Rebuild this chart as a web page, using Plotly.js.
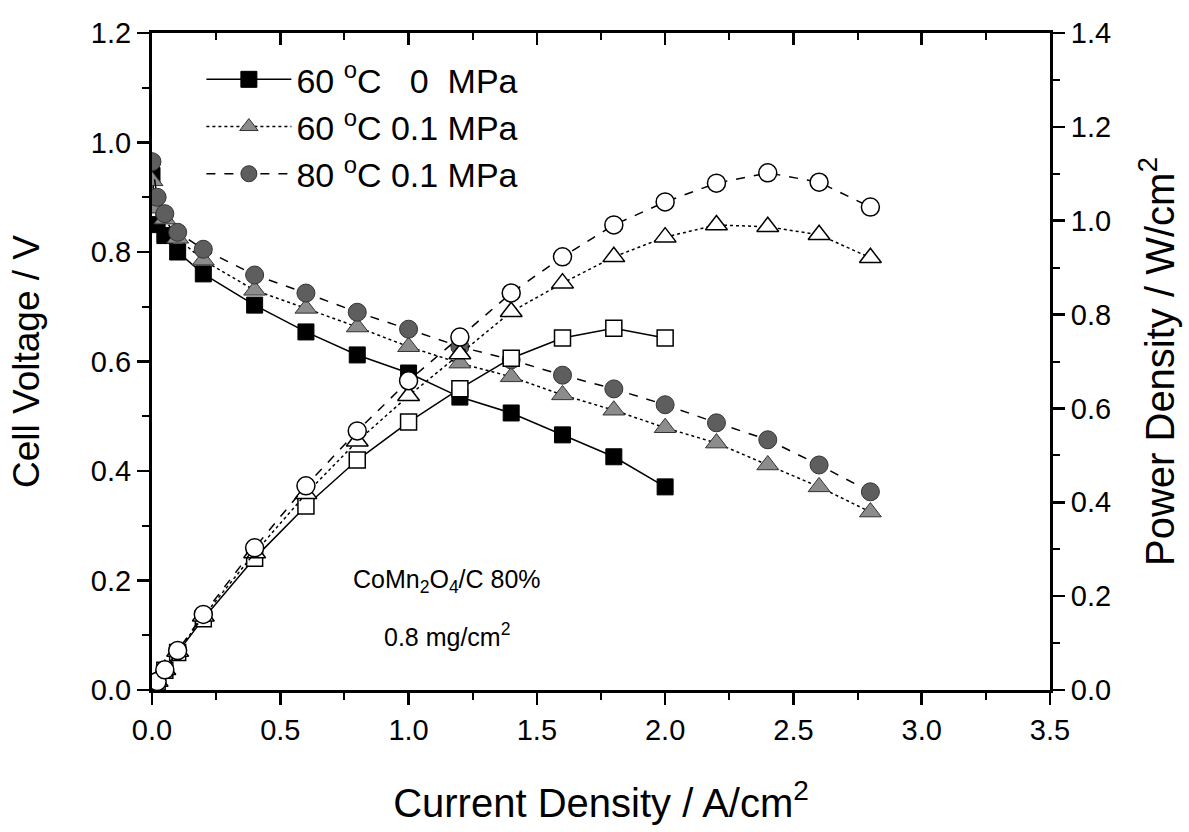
<!DOCTYPE html>
<html>
<head>
<meta charset="utf-8">
<script src="https://cdn.plot.ly/plotly-3.0.1.min.js"></script>
<style>html,body{margin:0;padding:0;background:#fff;}#chart{width:1189px;height:832px;}</style>
</head>
<body>
<div id="chart"></div>
<script>
// Current density (A/cm2)
var xSquare = [0, 0.02, 0.05, 0.1, 0.2, 0.4, 0.6, 0.8, 1.0, 1.2, 1.4, 1.6, 1.8, 2.0];
var xTriCirc = [0, 0.02, 0.05, 0.1, 0.2, 0.4, 0.6, 0.8, 1.0, 1.2, 1.4, 1.6, 1.8, 2.0, 2.2, 2.4, 2.6, 2.8];

// Cell voltage (V)
var vSquare = [0.94, 0.85, 0.83, 0.80, 0.76, 0.703, 0.654, 0.612, 0.579, 0.535, 0.506, 0.466, 0.426, 0.371];
var vTriangle = [0.93, 0.88, 0.86, 0.825, 0.785, 0.730, 0.697, 0.663, 0.627, 0.597, 0.572, 0.539, 0.511, 0.479, 0.451, 0.411, 0.371, 0.325];
var vCircle = [0.965, 0.90, 0.87, 0.836, 0.805, 0.758, 0.725, 0.690, 0.659, 0.627, 0.603, 0.575, 0.550, 0.521, 0.488, 0.457, 0.411, 0.362];

// Power density (W/cm2)
var pSquare = [0, 0.017, 0.042, 0.080, 0.152, 0.281, 0.392, 0.490, 0.571, 0.642, 0.707, 0.750, 0.771, 0.750];
var pTriangle = [0, 0.018, 0.043, 0.082, 0.157, 0.292, 0.418, 0.530, 0.627, 0.716, 0.806, 0.867, 0.923, 0.965, 0.991, 0.987, 0.970, 0.921];
var pCircle = [0, 0.018, 0.043, 0.084, 0.161, 0.303, 0.435, 0.552, 0.659, 0.752, 0.846, 0.923, 0.991, 1.040, 1.080, 1.102, 1.082, 1.029];

var names = ['60 <sup>o</sup>C   0  MPa', '60 <sup>o</sup>C 0.1 MPa', '80 <sup>o</sup>C 0.1 MPa'];
var annoLines = ['CoMn<sub>2</sub>O<sub>4</sub>/C 80%', '0.8 mg/cm<sup>2</sup>'];

var FONT = 'Liberation Sans, Arial, sans-serif';
var traces = [
  {x: xSquare, y: vSquare, name: names[0], mode: 'lines+markers', xaxis: 'x', yaxis: 'y',
   line: {color: '#000', width: 1.5, dash: 'solid'},
   marker: {symbol: 'square', size: 16, color: '#000', line: {color: '#000', width: 1}}},
  {x: xTriCirc, y: vTriangle, name: names[1], mode: 'lines+markers', xaxis: 'x', yaxis: 'y',
   line: {color: '#000', width: 1.5, dash: 'dot'},
   marker: {symbol: 'triangle-up', size: 19, color: '#8c8c8c', line: {color: '#333', width: 1}}},
  {x: xTriCirc, y: vCircle, name: names[2], mode: 'lines+markers', xaxis: 'x', yaxis: 'y',
   line: {color: '#000', width: 1.5, dash: 'dash'},
   marker: {symbol: 'circle', size: 18, color: '#5e5e5e', line: {color: '#333', width: 1}}},
  {x: xSquare, y: pSquare, showlegend: false, mode: 'lines+markers', xaxis: 'x2', yaxis: 'y2',
   line: {color: '#000', width: 1.5, dash: 'solid'},
   marker: {symbol: 'square', size: 16, color: '#fff', line: {color: '#000', width: 1.5}}},
  {x: xTriCirc, y: pTriangle, showlegend: false, mode: 'lines+markers', xaxis: 'x2', yaxis: 'y2',
   line: {color: '#000', width: 1.5, dash: 'dot'},
   marker: {symbol: 'triangle-up', size: 19, color: '#fff', line: {color: '#000', width: 1.5}}},
  {x: xTriCirc, y: pCircle, showlegend: false, mode: 'lines+markers', xaxis: 'x2', yaxis: 'y2',
   line: {color: '#000', width: 1.5, dash: 'dash'},
   marker: {symbol: 'circle', size: 18, color: '#fff', line: {color: '#000', width: 1.5}}}
];

var tickFont = {family: FONT, size: 29, color: '#000'};

var layout = {
  width: 1189, height: 832,
  margin: {l: 152, r: 139, t: 33, b: 142},
  paper_bgcolor: '#fff', plot_bgcolor: '#fff',
  font: {family: FONT, color: '#000'},
  showlegend: true,
  legend: {x: 0.055, y: 0.973, xanchor: 'left', yanchor: 'top', bgcolor: 'rgba(0,0,0,0)',
           font: {family: FONT, size: 34, color: '#000'}, itemwidth: 85, tracegroupgap: 0},
  xaxis: {range: [0, 3.5], dtick: 0.5, tickformat: '.1f', showgrid: false, zeroline: false,
          showline: true, linecolor: '#000', linewidth: 3, ticks: 'outside', ticklen: 12, tickwidth: 2.5, tickcolor: '#000',
          minor: {dtick: 0.25, ticks: 'outside', ticklen: 7, tickwidth: 2, tickcolor: '#000'},
          tickfont: tickFont, title: {text: 'Current Density / A/cm<sup>2</sup>', font: {family: FONT, size: 40, color: '#000'}, standoff: 45}},
  xaxis2: {range: [0, 3.5], matches: 'x', overlaying: 'x', side: 'top', anchor: 'y2', dtick: 0.5,
           showgrid: false, zeroline: false, showticklabels: false,
           showline: true, linecolor: '#000', linewidth: 3, ticks: 'inside', ticklen: 12, tickwidth: 2.5, tickcolor: '#000',
           minor: {dtick: 0.25, ticks: 'inside', ticklen: 7, tickwidth: 2, tickcolor: '#000'}},
  yaxis: {range: [0, 1.2], dtick: 0.2, tickformat: '.1f', showgrid: false, zeroline: false,
          showline: true, linecolor: '#000', linewidth: 3, ticks: 'outside', ticklen: 12, tickwidth: 2.5, tickcolor: '#000',
          minor: {dtick: 0.1, ticks: 'outside', ticklen: 7, tickwidth: 2, tickcolor: '#000'},
          tickfont: tickFont, title: {text: 'Cell Voltage / V', font: {family: FONT, size: 37, color: '#000'}, standoff: 40}},
  yaxis2: {range: [0, 1.4], dtick: 0.2, tickformat: '.1f', overlaying: 'y', side: 'right', anchor: 'x2',
           showgrid: false, zeroline: false,
           showline: true, linecolor: '#000', linewidth: 3, ticks: 'outside', ticklen: 12, tickwidth: 2.5, tickcolor: '#000',
           minor: {dtick: 0.1, ticks: 'outside', ticklen: 7, tickwidth: 2, tickcolor: '#000'},
           tickfont: tickFont, title: {text: 'Power Density / W/cm<sup>2</sup>', font: {family: FONT, size: 40, color: '#000'}, standoff: 36}},
  annotations: [
    {x: 1.15, y: 0.20, xref: 'x', yref: 'y', text: annoLines[0], showarrow: false,
     font: {family: FONT, size: 25, color: '#000'}, xanchor: 'center', yanchor: 'middle'},
    {x: 1.15, y: 0.10, xref: 'x', yref: 'y', text: annoLines[1], showarrow: false,
     font: {family: FONT, size: 25, color: '#000'}, xanchor: 'center', yanchor: 'middle'}
  ]
};

Plotly.newPlot('chart', traces, layout, {displayModeBar: false, staticPlot: true});
</script>
</body>
</html>
